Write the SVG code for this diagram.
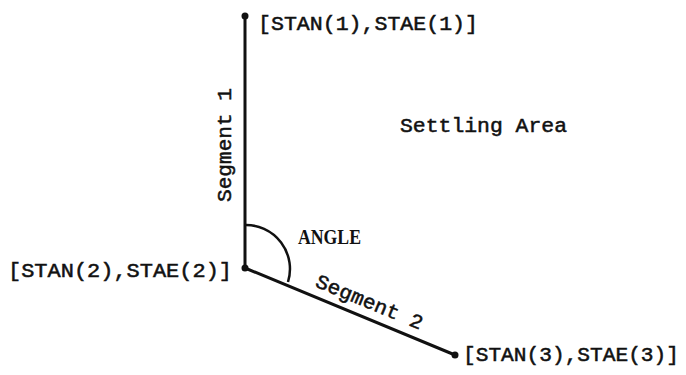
<svg xmlns="http://www.w3.org/2000/svg" width="686" height="375" viewBox="0 0 686 375">
<style>
.line{stroke:#111;stroke-width:3;fill:none;stroke-linecap:round}
.arc{stroke:#111;stroke-width:2.5;fill:none}
.pt{fill:#111}
.mono{font-family:"Liberation Mono","DejaVu Sans Mono",monospace;font-size:20px;fill:#111;stroke:#111;stroke-width:0.5}
.serif{font-family:"Liberation Serif","Times New Roman",serif;font-size:21px;fill:#111;font-weight:bold}
</style>
<rect width="686" height="375" fill="#fff"/>
<g id="connectors">
<line class="line" x1="245" y1="16" x2="245" y2="268"/>
<line class="line" x1="245" y1="268" x2="455" y2="355"/>
<path class="arc" d="M245,225 A44,44 0 0 1 288,282"/>
</g>
<g id="p1">
<circle class="pt" cx="245" cy="16" r="3.5"/>
<text class="mono" x="258" y="30" textLength="220" lengthAdjust="spacingAndGlyphs">[STAN(1),STAE(1)]</text>
</g>
<g id="p2">
<circle class="pt" cx="245" cy="268" r="3.5"/>
<text class="mono" x="8" y="277" textLength="224" lengthAdjust="spacingAndGlyphs">[STAN(2),STAE(2)]</text>
</g>
<g id="p3">
<circle class="pt" cx="455" cy="355" r="3.5"/>
<text class="mono" x="463" y="361" textLength="216" lengthAdjust="spacingAndGlyphs">[STAN(3),STAE(3)]</text>
</g>
<g id="labels">
<text class="mono" transform="translate(231,145) rotate(-90)" text-anchor="middle" textLength="114" lengthAdjust="spacingAndGlyphs">Segment 1</text>
<text class="mono" transform="translate(367,308) rotate(22.5)" text-anchor="middle" textLength="114" lengthAdjust="spacingAndGlyphs">Segment 2</text>
<text class="mono" x="400" y="132" textLength="167" lengthAdjust="spacingAndGlyphs">Settling Area</text>
<text class="serif" x="298" y="244" textLength="63" lengthAdjust="spacingAndGlyphs">ANGLE</text>
</g>
</svg>
